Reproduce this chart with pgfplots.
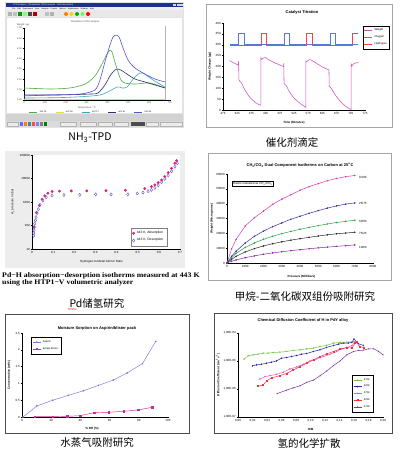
\documentclass[border=0pt]{standalone}
\usepackage{pgfplots}
\pgfplotsset{compat=1.18}
\usepackage{fontspec}
\setmainfont{Liberation Sans}
\newfontfamily\cjk{Noto Sans CJK SC}
\newfontfamily\serifb{Liberation Serif}
\usetikzlibrary{decorations.pathmorphing}

\definecolor{pOneBlue}{RGB}{85,85,205}
\definecolor{pOneGreen}{RGB}{80,170,70}
\definecolor{pOneNavy}{RGB}{45,45,120}
\definecolor{pOneTeal}{RGB}{60,170,180}
\definecolor{pOneYellow}{RGB}{230,220,60}
\definecolor{titlebar}{RGB}{30,50,140}
\definecolor{wPink}{RGB}{210,80,190}
\definecolor{oBlue}{RGB}{90,120,220}
\definecolor{hRed}{RGB}{240,70,70}
\definecolor{absM}{RGB}{225,30,120}
\definecolor{desB}{RGB}{110,100,200}
\definecolor{cA}{RGB}{210,60,180}
\definecolor{cB}{RGB}{50,50,160}
\definecolor{cC}{RGB}{40,160,70}
\definecolor{cD}{RGB}{40,40,40}
\definecolor{cE}{RGB}{140,40,160}
\definecolor{aspB}{RGB}{120,120,215}
\definecolor{blisM}{RGB}{210,40,150}
\definecolor{dG}{RGB}{110,200,70}
\definecolor{dN}{RGB}{40,40,150}
\definecolor{dP}{RGB}{225,90,210}
\definecolor{dR}{RGB}{245,50,60}
\definecolor{dV}{RGB}{130,50,160}

\newcommand{\tf}{\fontsize{3}{3.4}\selectfont}
\newcommand{\ttl}{\fontsize{4}{4.5}\selectfont\bfseries}
\newcommand{\capf}{\cjk\fontsize{10.5}{12}\selectfont}

\pgfplotsset{
  mini/.style={
    scale only axis, axis lines=left, axis line style={-, line width=0.35pt},
    tick align=outside, major tick length=1.3pt,
    every tick/.style={black, line width=0.3pt},
    ticklabel style={font=\tf, inner sep=0.8pt},
    /pgf/number format/assume math mode=true,
    /pgf/number format/1000 sep={},
    scaled ticks=false,
    label style={font=\tf\bfseries},
    legend style={font=\tf, inner sep=0.8pt, row sep=-0.6pt, legend cell align=left},
    every axis plot/.append style={line width=0.45pt},
  },
  shortleg/.style={legend image code/.code={\draw[mark repeat=2,mark phase=2,##1] plot coordinates {(0pt,0pt) (4pt,0pt) (8pt,0pt)};}},
}

\begin{document}
\begin{tikzpicture}[x=1pt,y=1pt]
\useasboundingbox (0,0) rectangle (403,-457);
\fill[white] (0,0) rectangle (403,-457);

%% ---------------- Panel 1 : NH3-TPD screenshot ----------------
\fill[gray!22] (5,-2) rectangle (184,-128);
\fill[titlebar] (6,-3) rectangle (183,-7);
\node[anchor=west, font=\fontsize{2.2}{2.4}\selectfont, text=white, inner sep=0] at (13,-5) {TPD Analysis - [Temp/Mass (TPD) analysis : NH3 desorption]};
\foreach \xx in {173,176.5,180}{\fill[gray!30] (\xx,-3.6) rectangle (\xx+3,-6.4);}
\fill[gray!12] (6,-7) rectangle (183,-10.5);
\node[anchor=west, font=\fontsize{2}{2.2}\selectfont, inner sep=0] at (12,-8.8) {File\quad Edit\quad Experiment\quad View\quad Analysis\quad Format\quad Options\quad Applications\quad Window\quad Help};
\fill[gray!18] (6,-10.5) rectangle (183,-17.5);
\foreach \xx/\cc in {8/gray!60,13/gray!50,18/green!60!black,23/green!50,28/black!70,33/red!70!black,45/gray!50,50/gray!60}{\fill[\cc] (\xx,-12) rectangle (\xx+3.5,-16);}
\foreach \xx/\cc in {66/orange,71.5/yellow!70!orange,77/green!70!black,82.5/green!60,88/red}{\fill[\cc] (\xx,-14) circle (2);}
\fill[white] (7,-18) rectangle (182,-113);
\fill[gray!35] (6,-114) rectangle (183,-121);
\fill[gray!28] (6,-121.5) rectangle (183,-127);
\foreach \xa/\xb in {7/18,60/76,80/96,98/112,114/128,146/158,160/182}{\draw[gray!60, fill=gray!15, line width=0.3pt] (\xa,-122) rectangle (\xb,-126.5);}
\fill[black!70] (131,-122) rectangle (145,-126.5);
\foreach \xx/\cc in {20/blue!60,24/orange,28/cyan!60!black,32/red!70,36/blue!50,40/gray,44/green!50!black}{\fill[\cc] (\xx,-122.5) rectangle (\xx+2.5,-126);}
\node[font=\fontsize{2.4}{2.6}\selectfont, text=gray!60!black] at (85,-22) {Temp/Mass (TPD) analysis};
\node[font=\fontsize{2.4}{2.6}\selectfont, text=gray!60!black] at (23,-25) {Weight / \textmu g};
\draw[gray!60, line width=0.4pt] (165,-26) -- (165,-100);
\begin{axis}[mini, shortleg, at={(24pt,-100pt)}, anchor=south west, width=146pt, height=72pt,
  xmin=0, xmax=700, ymin=0, ymax=7,
  xtick={0,100,200,300,400,500,600,700}, ytick={0,1,2,3,4,5,6,7},
  ticklabel style={text=gray!60!black, font=\fontsize{2.4}{2.6}\selectfont},
  yticklabel style={/pgf/number format/fixed, /pgf/number format/fixed zerofill, /pgf/number format/precision=2},
  xlabel={Temperature / \textdegree C}, label style={font=\fontsize{2.4}{2.6}\selectfont, text=gray!60!black},
  xlabel style={at={(axis description cs:0.43,-0.11)}, anchor=center},
  legend style={at={(0.46,-0.17)}, anchor=center, draw=none, fill=none, legend columns=5,
    font=\fontsize{2.2}{2.4}\selectfont, /tikz/every even column/.append style={column sep=7pt}},
  every axis plot/.append style={line width=0.6pt, smooth, tension=0.45}]
\addplot[pOneGreen] coordinates {(0,1.17)(125,1.07)(221,1.17)(293,1.55)(340,2.33)(374,3.50)(398,4.47)(412,4.85)(422,4.66)(436,3.69)(451,2.72)(465,1.94)(484,1.65)(532,1.55)(604,1.65)(676,1.17)};
\addlegendentry{m/z 15}
\addplot[pOneYellow] coordinates {(0,0.05)(676,0.05)};
\addlegendentry{m/z 16}
\addplot[pOneTeal] coordinates {(0,0.19)(200,0.25)(364,0.49)(446,1.26)(470,1.17)(494,1.26)(530,2.2)(556,2.62)(571,2.62)(619,1.94)(676,1.26)};
\addlegendentry{m/z 17}
\addplot[pOneNavy] coordinates {(0,0.49)(173,0.49)(317,0.58)(355,0.68)(388,1.46)(412,2.33)(431,2.82)(446,3.01)(465,2.91)(494,2.52)(532,2.04)(580,1.75)(628,1.46)(676,1.17)};
\addlegendentry{m/z 18}
\addplot[pOneBlue] coordinates {(0,0.39)(125,0.49)(269,0.58)(340,0.97)(364,1.94)(388,3.69)(412,5.34)(427,6.12)(441,6.31)(456,6.12)(475,5.05)(499,3.88)(532,3.11)(580,2.52)(628,2.04)(676,1.75)};
\addlegendentry{m/z 44}
\end{axis}
\node[font=\capf] at (90,-138) {NH\textsubscript{3}-TPD};

%% ---------------- Panel 2 : Catalyst Titration ----------------
\draw[gray!70, line width=0.5pt] (206,-4) rectangle (392,-127);
\node[font=\ttl] at (302,-12) {Catalyst Titration};
\begin{axis}[mini, shortleg, at={(223pt,-110pt)}, anchor=south west, width=142pt, height=87pt,
  xmin=275, xmax=775, ymin=0, ymax=400,
  xtick={275,325,375,425,475,525,575,625,675,725,775}, ytick={0,50,100,150,200,250,300,350,400},
  xlabel={Time (Minutes)}, ylabel={Weight Change (\textmu g)},
  xlabel style={at={(axis description cs:0.5,-0.15)}, anchor=center},
  ylabel style={at={(axis description cs:-0.092,0.5)}, anchor=center},
  legend style={at={(0.986,0.966)}, anchor=north west, draw=black, line width=0.3pt, font=\fontsize{2.8}{3.2}\selectfont}]
\addplot[wPink, line width=0.55pt] coordinates {(298,227)(305,222)(315,215)(325,209)(329,206)(330,226)(331,140)(334,132)(338,128)(342,120)(346,108)(350,97)(355,86)(360,76)(365,66)(370,58)(375,51)(380,45)(385,39)(390,34)(395,30)(400,26)(405,23)(408,22)(408,245)(410,232)(414,236)(420,240)(425,241)(430,236)(440,228)(450,222)(460,215)(470,210)(480,204)(488,200)(489,214)(490,122)(493,118)(497,113)(501,104)(505,93)(510,82)(515,72)(520,63)(530,49)(540,37)(550,27)(560,18)(567,12)(567,225)(570,222)(575,228)(580,232)(585,230)(595,222)(605,214)(615,206)(625,198)(635,192)(645,186)(648,184)(649,108)(652,106)(656,100)(660,92)(665,80)(670,70)(680,52)(690,37)(700,25)(710,14)(720,6)(726,2)(726,212)(729,202)(733,210)(740,216)(752,218)};
\addlegendentry{Weight}
\addplot[oBlue, line width=0.55pt] coordinates {(300,302)(329,302)(329,355)(350,355)(350,302)(491,302)(491,355)(510,355)(510,302)(651,302)(651,355)(671,355)(671,302)(752,302)};
\addlegendentry{Oxygen}
\addplot[hRed, line width=0.55pt] coordinates {(300,299)(410,299)(410,355)(429,355)(429,299)(569,299)(569,355)(590,355)(590,299)(729,299)(729,355)(752,355)};
\addlegendentry{Hydrogen}
\end{axis}
\node[font=\capf] at (292,-142) {催化剂滴定};

%% ---------------- Panel 3 : Pd-H isotherms ----------------
\fill[gray!14] (5,-151) rectangle (185,-268);
\begin{axis}[mini, at={(32pt,-249pt)}, anchor=south west, width=148pt, height=94pt,
  ymode=log, xmin=0, xmax=0.7, ymin=10, ymax=100000,
  xtick={0,0.1,0.2,0.3,0.4,0.5,0.6,0.7},
  ytick={10,100,1000,10000,100000}, yticklabels={10,100,1000,10000,100000}, yminorticks=false,
  axis background/.style={fill=white},
  xlabel={Hydrogen-to-Metal Atomic Ratio}, ylabel={H\textsubscript{2} pressure / mbar},
  label style={font=\tf},
  xlabel style={at={(axis description cs:0.47,-0.14)}, anchor=center},
  ylabel style={at={(axis description cs:-0.13,0.5)}, anchor=center},
  legend style={at={(0.912,0.03)}, anchor=south east, draw=gray, fill=white, font=\fontsize{3.3}{3.8}\selectfont, inner sep=1.5pt}]
\addplot[only marks, mark=*, mark size=1.2pt, color=absM] coordinates {(0.0095,85)(0.021,355)(0.035,710)(0.048,1320)(0.060,1830)(0.075,2370)(0.095,2800)(0.13,2880)(0.186,2960)(0.259,2960)(0.35,3070)(0.442,3170)(0.533,3720)(0.565,4500)(0.581,5350)(0.597,6700)(0.613,8700)(0.628,12000)(0.644,17800)(0.660,27000)(0.676,44600)(0.684,57500)};
\addlegendentry{443 K, Absorption}
\addplot[only marks, mark=diamond, mark size=1.6pt, color=desB, mark options={line width=0.45pt}] coordinates {(0.008,37)(0.008,48)(0.0095,62)(0.011,86)(0.0127,119)(0.016,165)(0.019,228)(0.024,337)(0.030,494)(0.038,760)(0.051,1150)(0.067,1590)(0.095,1890)(0.151,2000)(0.226,2030)(0.301,2100)(0.374,2100)(0.453,2100)(0.498,2300)(0.525,2530)(0.549,2880)(0.565,3280)(0.581,4000)(0.597,5170)(0.613,6960)(0.628,9600)(0.644,13700)(0.660,20300)(0.676,32000)(0.687,44500)};
\addlegendentry{443 K, Desorption}
\end{axis}
\node[anchor=west, inner sep=0, xscale=1.12, font=\serifb\bfseries\fontsize{7}{8}\selectfont] at (2,-276) {Pd−H absorption−desorption isotherms measured at 443 K};
\node[anchor=west, inner sep=0, xscale=1.12, font=\serifb\bfseries\fontsize{7}{8}\selectfont] at (2,-282.5) {using the HTP1−V volumetric analyzer};
\node[font=\capf] at (97,-303) {Pd储氢研究};
\draw[red, line width=0.3pt, decorate, decoration={snake, amplitude=0.35pt, segment length=1.6pt}] (68,-309) -- (77,-309);

%% ---------------- Panel 4 : CH4/CO2 ----------------
\draw[gray!70, line width=0.5pt] (208,-153) rectangle (391,-280);
\node[font=\ttl] at (300,-165) {CH\textsubscript{4}/CO\textsubscript{2} Dual Component Isotherms on Carbon at 25\textsuperscript{o}C};
\begin{axis}[mini, at={(227pt,-263pt)}, anchor=south west, width=146pt, height=89pt,
  xmin=0, xmax=8000, ymin=0, ymax=60000, clip=false,
  xtick={0,1000,2000,3000,4000,5000,6000,7000,8000}, ytick={0,10000,20000,30000,40000,50000,60000},
  xlabel={Pressure (Millibars)}, ylabel={Weight (Micrograms)},
  xlabel style={at={(axis description cs:0.51,-0.157)}, anchor=center},
  ylabel style={at={(axis description cs:-0.103,0.5)}, anchor=center},
  every axis plot/.append style={mark=*, mark size=0.5pt, line width=0.5pt}]
\addplot[cA] coordinates {(0,0)(250,9500)(500,16000)(1000,25000)(1500,30500)(2000,35000)(2500,39500)(3000,43000)(3500,46000)(4000,49000)(4500,51500)(5000,53500)(5500,55500)(6000,57000)(6500,58200)(7000,59000)};
\addplot[cB] coordinates {(0,0)(250,4500)(500,8000)(1000,13500)(1500,18000)(2000,21500)(2500,24500)(3000,27000)(3500,29500)(4000,31500)(4500,33500)(5000,35300)(5500,37000)(6000,38500)(6500,39700)(7000,40500)};
\addplot[cC] coordinates {(0,0)(250,3500)(500,6500)(1000,10500)(1500,13500)(2000,16000)(2500,18000)(3000,19800)(3500,21300)(4000,22700)(4500,24000)(5000,25200)(5500,26300)(6000,27300)(6500,28100)(7000,28800)};
\addplot[cD] coordinates {(0,0)(250,2500)(500,4500)(1000,7500)(1500,9700)(2000,11500)(2500,13000)(3000,14300)(3500,15400)(4000,16400)(4500,17300)(5000,18200)(5500,19000)(6000,19700)(6500,20200)(7000,20700)};
\addplot[cE] coordinates {(0,0)(250,1200)(500,2100)(1000,3600)(1500,4800)(2000,5900)(2500,6800)(3000,7600)(3500,8300)(4000,9000)(4500,9600)(5000,10200)(5500,10700)(6000,11200)(6500,11700)(7000,12200)};
\node[anchor=west, font=\tf, inner sep=0] at (axis cs:7230,58000) {0/100};
\node[anchor=west, font=\tf, inner sep=0] at (axis cs:7230,40450) {25/75};
\node[anchor=west, font=\tf, inner sep=0] at (axis cs:7230,28300) {50/50};
\node[anchor=west, font=\tf, inner sep=0] at (axis cs:7230,20200) {75/25};
\node[anchor=west, font=\tf, inner sep=0] at (axis cs:7230,10800) {100/0};
\end{axis}
\node[draw, line width=0.3pt, font=\tf, inner sep=1pt, anchor=west] at (232,-183.5) {Ratios indicated as CH\textsubscript{4}/CO\textsubscript{2}};
\node[font=\capf] at (305,-297) {甲烷-二氧化碳双组份吸附研究};

%% ---------------- Panel 5 : Moisture sorption ----------------
\draw[gray!60!black, line width=0.5pt] (5,-314) rectangle (189,-433);
\node[font=\ttl] at (97,-328) {Moisture Sorption on Aspirin/blister pack};
\begin{axis}[mini, shortleg, at={(22pt,-417pt)}, anchor=south west, width=146pt, height=84pt,
  xmin=0, xmax=100, ymin=0, ymax=2.5,
  xtick={0,20,40,60,80,100}, ytick={0,0.5,1,1.5,2,2.5},
  xlabel={\% RH (\%)}, ylabel={Concentration (wt\%)},
  xlabel style={at={(axis description cs:0.48,-0.143)}, anchor=center},
  ylabel style={at={(axis description cs:-0.089,0.5)}, anchor=center},
  legend style={at={(0.062,0.952)}, anchor=north west, draw=black, line width=0.3pt, font=\fontsize{2.6}{3}\selectfont, inner sep=1.2pt}]
\addplot[aspB, mark=*, mark size=0.55pt] coordinates {(0.7,0)(10.2,0.33)(21.1,0.50)(31.8,0.645)(42,0.78)(52.3,0.94)(62.5,1.10)(72,1.31)(82.5,1.59)(91.6,2.25)};
\addlegendentry{Aspirin}
\addplot[blisM, mark=square*, mark size=0.7pt] coordinates {(8.6,0.01)(21.1,0.01)(31.1,0.02)(39.8,0.04)(49.5,0.13)(59.5,0.14)(69.8,0.17)(79.5,0.21)(89.3,0.29)};
\addlegendentry{Empty blister}
\end{axis}
\node[font=\capf] at (97,-443) {水蒸气吸附研究};

%% ---------------- Panel 6 : Diffusion coefficient ----------------
\draw[gray!60!black, line width=0.5pt] (214,-313) rectangle (392,-433);
\node[font=\ttl] at (303,-320) {Chemical Diffusion Coefficient of H in PdY alloy};
\begin{axis}[mini, shortleg, at={(238pt,-417pt)}, anchor=south west, width=145pt, height=84pt,
  ymode=log, xmin=0, xmax=0.2, ymin=1e-7, ymax=1e-4,
  xtick={0,0.02,0.04,0.06,0.08,0.1,0.12,0.14,0.16,0.18,0.2},
  xticklabels={{0,00},{0,02},{0,04},{0,06},{0,08},{0,10},{0,12},{0,14},{0,16},{0,18},{0,20}},
  ytick={1e-7,1e-6,1e-5,1e-4}, yticklabels={{1,00E-07},{1,00E-06},{1,00E-05},{1,00E-04}}, yminorticks=false,
  xlabel={H/M}, ylabel={Diffusion Coefficient (cm\textsuperscript{2}s\textsuperscript{-1})},
  xlabel style={at={(axis description cs:0.5,-0.143)}, anchor=center},
  ylabel style={at={(axis description cs:-0.138,0.5)}, anchor=center},
  legend style={at={(0.786,0.5)}, anchor=north west, draw=black, line width=0.3pt, font=\fontsize{2.6}{3}\selectfont, inner sep=1.2pt},
  every axis plot/.append style={mark size=0.5pt, line width=0.5pt}]
\addplot[dG, mark=triangle*] coordinates {(0.0083,1.16e-5)(0.0139,1.53e-5)(0.0208,1.66e-5)(0.0277,1.75e-5)(0.0347,1.91e-5)(0.0416,1.91e-5)(0.0485,2.01e-5)(0.0578,2.07e-5)(0.0670,2.19e-5)(0.0762,2.38e-5)(0.0855,2.51e-5)(0.0947,2.73e-5)(0.104,2.88e-5)(0.113,3.31e-5)(0.122,3.60e-5)(0.132,4.37e-5)(0.141,4.61e-5)(0.150,4.74e-5)(0.159,4.88e-5)(0.164,4.74e-5)};
\addlegendentry{673K}
\addplot[dN, mark=diamond*] coordinates {(0.0199,6.67e-6)(0.0254,7.24e-6)(0.0323,7.66e-6)(0.0393,8.32e-6)(0.0462,9.04e-6)(0.0531,1.01e-5)(0.0600,1.26e-5)(0.0670,1.33e-5)(0.0739,1.45e-5)(0.0808,1.57e-5)(0.0878,1.75e-5)(0.0947,1.85e-5)(0.104,2.19e-5)(0.113,2.51e-5)(0.122,3.05e-5)(0.132,3.60e-5)(0.139,4.02e-5)(0.146,4.37e-5)(0.152,4.37e-5)(0.157,4.61e-5)(0.160,6.08e-5)(0.166,4.13e-5)(0.173,3.60e-5)};
\addlegendentry{623K}
\addplot[dP, mark=triangle*] coordinates {(0.030,2.26e-6)(0.037,2.75e-6)(0.0439,2.98e-6)(0.0531,3.33e-6)(0.0624,3.94e-6)(0.0716,5.19e-6)(0.0808,6.12e-6)(0.0901,7.64e-6)(0.0993,1.01e-5)(0.1085,1.19e-5)(0.1178,1.44e-5)(0.127,1.75e-5)(0.1362,2.18e-5)(0.1432,2.72e-5)(0.150,3.04e-5)(0.157,3.50e-5)(0.1617,5.01e-5)(0.1663,3.80e-5)};
\addlegendentry{573K}
\addplot[dR, mark=square*] coordinates {(0.0277,1.27e-6)(0.0347,1.38e-6)(0.0393,1.92e-6)(0.0462,2.53e-6)(0.0578,2.98e-6)(0.067,3.62e-6)(0.0762,4.78e-6)(0.0855,6.30e-6)(0.0947,8.32e-6)(0.104,1.10e-5)(0.1132,1.44e-5)(0.1224,1.80e-5)(0.1316,2.19e-5)(0.1409,2.65e-5)(0.150,3.04e-5)(0.157,2.88e-5)(0.1617,4.37e-5)(0.164,4.74e-5)(0.1677,3.31e-5)(0.173,3.04e-5)};
\addlegendentry{523K}
\addplot[dV, mark=x] coordinates {(0.054,6.90e-7)(0.067,9.10e-7)(0.0762,1.10e-6)(0.0855,1.30e-6)(0.0947,1.72e-6)(0.104,2.08e-6)(0.1132,2.98e-6)(0.1224,4.40e-6)(0.1316,6.84e-6)(0.1409,1.01e-5)(0.150,1.66e-5)(0.1594,2.19e-5)(0.1663,2.38e-5)(0.1732,2.44e-5)(0.1801,2.73e-5)(0.1871,2.73e-5)(0.194,2.19e-5)(0.200,1.66e-5)};
\addlegendentry{473K}
\end{axis}
\node[font=\capf] at (309,-443) {氢的化学扩散};
\end{tikzpicture}
\end{document}
